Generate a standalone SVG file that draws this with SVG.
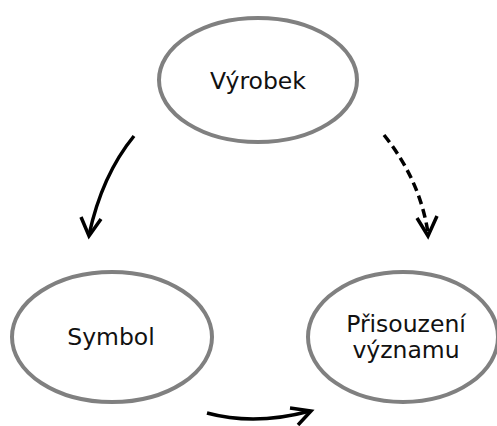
<svg xmlns="http://www.w3.org/2000/svg" width="497" height="426" viewBox="0 0 497 426">
  <style>
    .node ellipse { fill: #ffffff; stroke: #808080; stroke-width: 4; }
    .node text { font-family: "DejaVu Sans", Verdana, sans-serif; font-size: 23.5px; fill: #111111; text-anchor: middle; }
    .edge { fill: none; stroke: #000000; stroke-width: 3.5; stroke-linecap: butt; stroke-linejoin: miter; }
    .dashed { stroke-dasharray: 9 5; }
  </style>
  <rect width="497" height="426" fill="#ffffff"/>

  <g id="vyrobek" class="node">
    <ellipse cx="258" cy="80" rx="99" ry="62"/>
    <text x="258" y="89">Výrobek</text>
  </g>

  <g id="symbol" class="node">
    <ellipse cx="112" cy="337" rx="100" ry="65"/>
    <text x="111" y="345">Symbol</text>
  </g>

  <g id="prisouzeni" class="node">
    <ellipse cx="403" cy="337" rx="95" ry="65"/>
    <text x="406" y="332">Přisouzení</text>
    <text x="406" y="358">významu</text>
  </g>

  <g id="connectors">
    <!-- Výrobek -> Symbol -->
    <path class="edge" d="M134,136 Q102,175 89,235"/>
    <path class="edge" d="M81,217 L89,236 L101,219"/>
    <!-- Výrobek -> Přisouzení významu (dashed) -->
    <path class="edge dashed" d="M384,135 Q420,180 428,233"/>
    <path class="edge" d="M417,218 L428,236 L437,216"/>
    <!-- Symbol -> Přisouzení významu -->
    <path class="edge" d="M207,413 Q255,426 310,411"/>
    <path class="edge" d="M290,408 L311,411 L298,425"/>
  </g>
</svg>
